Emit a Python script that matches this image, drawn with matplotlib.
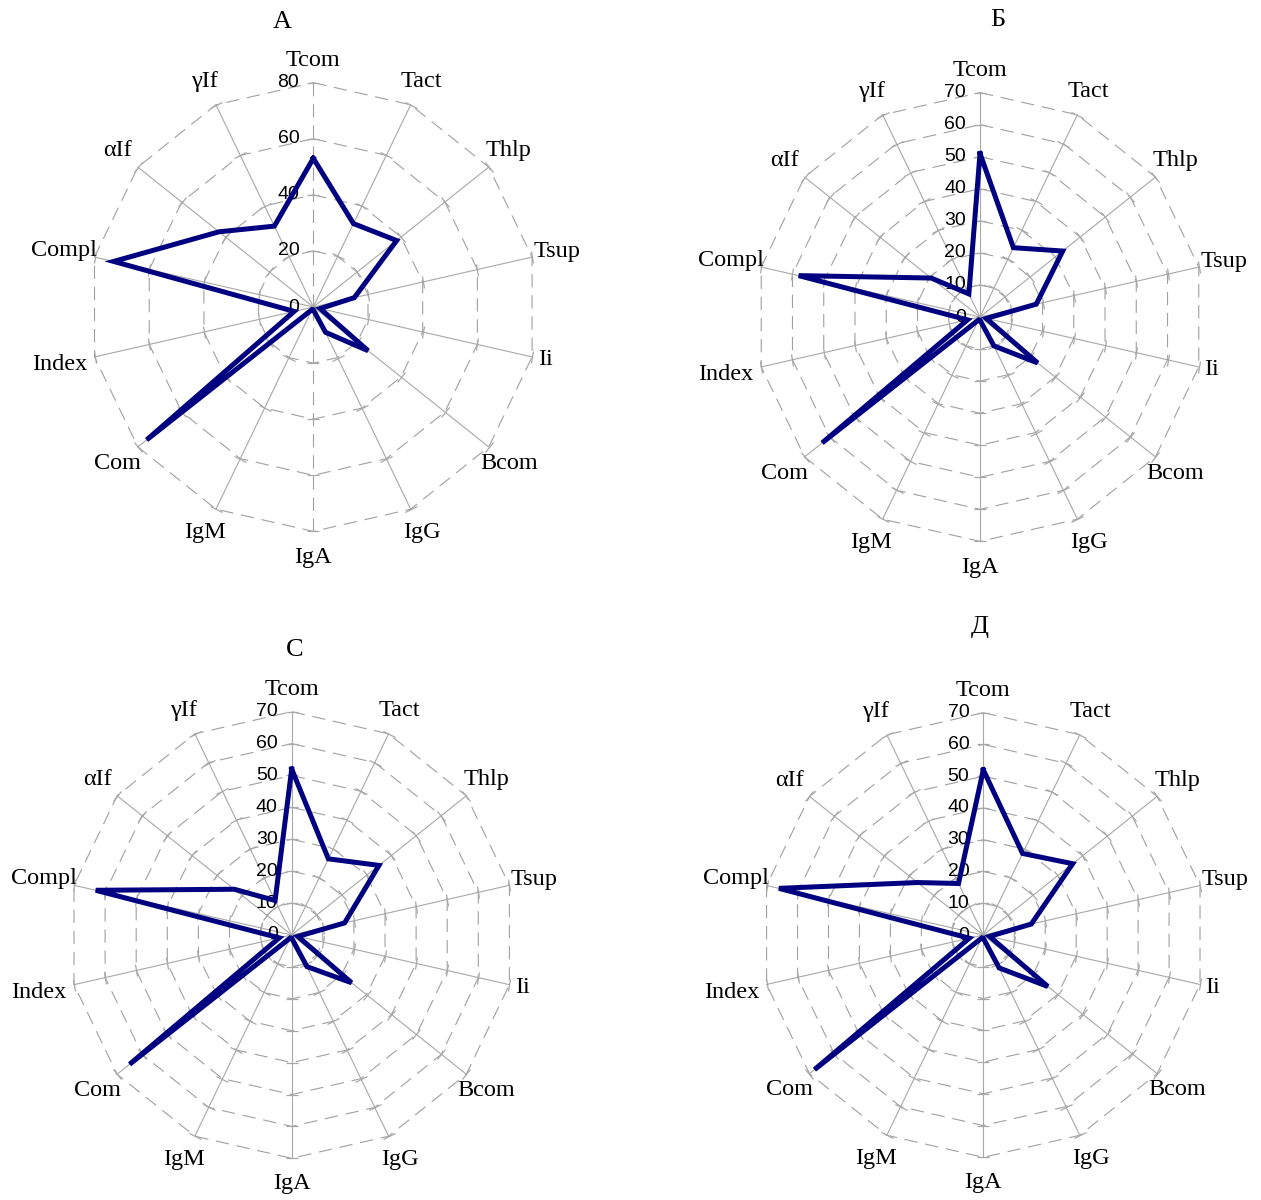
import numpy as np
import matplotlib
matplotlib.use("Agg")
import matplotlib.pyplot as plt
from matplotlib.markers import MarkerStyle
from matplotlib.transforms import Affine2D

# ---- data -------------------------------------------------------------
categories = ["Tcom", "Tact", "Thlp", "Tsup", "Ii", "Bcom", "IgG", "IgA",
              "IgM", "Com", "Index", "Compl", "αIf", "γIf"]

values_a = [53, 33, 38, 15, 2.5, 25, 10, 1, 1, 76, 7, 73, 43, 32]
values_b = [51, 24, 33, 18, 2, 23, 10, 1, 1, 63, 4, 58, 19.5, 8]
values_c = [52, 26.5, 35, 17, 2, 24, 11, 1, 1, 65, 4, 63, 23, 12]
values_d = [52, 28.5, 36, 15.5, 2, 26, 11.5, 1, 1, 68, 4.5, 66, 26.5, 18]

panel_titles = ["А", "Б", "С", "Д"]
scale_max = [80, 70, 70, 70]
scale_step = [20, 10, 10, 10]

# ---- layout (pixels in a 1261 x 1200 canvas) ---------------------------
W, H = 1261, 1200
centers = [(313.3, 307.0), (980.0, 317.0), (291.7, 935.0), (983.3, 935.0)]
radii = [224.4, 224.4, 223.3, 222.3]
title_pos = [(282, 22), (998, 20), (295, 650), (980, 627)]
label_factor = {"Ii": 1.06, "Index": 1.16, "Compl": 1.14, "Tcom": 1.10}

ring_color = "#a0a0a0"
spoke_color = "#a8a8a8"
line_color = "#000080"
serif = ["Liberation Serif", "DejaVu Serif"]
sans = ["Liberation Sans", "DejaVu Sans"]

fig = plt.figure(figsize=(W / 100, H / 100), dpi=100)


def radar(ax, values, vmax, step, dashed_axis):
    n = len(categories)
    angles = np.arange(n) * 2 * np.pi / n
    closed = np.append(angles, angles[0])

    ax.set_theta_zero_location("N")
    ax.set_theta_direction(-1)
    ax.set_ylim(0, vmax)
    ax.set_xticks([])
    ax.set_yticks([])
    ax.grid(False)
    ax.spines["polar"].set_visible(False)
    ax.patch.set_visible(False)

    levels = np.arange(step, vmax + step, step)

    # polygonal rings
    for lev in levels:
        ax.plot(closed, np.full(n + 1, lev), color=ring_color, lw=0.8,
                dashes=(12, 7), clip_on=False, zorder=1)

    # spokes with perpendicular tick marks
    for a in angles:
        deg = np.degrees(a)
        vertical = np.isclose(deg, 0) or np.isclose(deg, 180)
        if dashed_axis and vertical:
            ax.plot([a, a], [0, vmax], color=ring_color, lw=0.8,
                    dashes=(12, 7), clip_on=False, zorder=1)
        else:
            ax.plot([a, a], [0, vmax], color=spoke_color, lw=0.8,
                    clip_on=False, zorder=1)
        tick = MarkerStyle("_", transform=Affine2D().rotate_deg(-deg))
        ax.plot(np.full(len(levels), a), levels, ls="none", marker=tick,
                ms=9, mec=spoke_color, mew=0.9, clip_on=False, zorder=1)

    # value labels along the top axis
    for lev in np.concatenate([[0], levels]):
        ax.annotate(f"{lev:g}", xy=(0, lev), xytext=(-14, 0),
                    textcoords="offset pixels", ha="right", va="center",
                    fontsize=14, family=sans, color="black", zorder=3,
                    annotation_clip=False)

    # category labels
    for a, name in zip(angles, categories):
        f = label_factor.get(name, 1.115)
        ax.text(a, vmax * f, name, ha="center", va="center",
                fontsize=17.5, family=serif, color="black")

    # data polygon
    vals = np.append(values, values[0])
    ax.plot(closed, vals, color=line_color, lw=3.6,
            solid_joinstyle="miter", clip_on=False, zorder=5)


all_values = [values_a, values_b, values_c, values_d]
for i in range(4):
    cx, cy = centers[i]
    r = radii[i]
    rect = [(cx - r) / W, 1 - (cy + r) / H, 2 * r / W, 2 * r / H]
    ax = fig.add_axes(rect, projection="polar")
    radar(ax, all_values[i], scale_max[i], scale_step[i], dashed_axis=(i == 0))
    tx, ty = title_pos[i]
    fig.text(tx / W, 1 - ty / H, panel_titles[i], ha="center", va="center",
             fontsize=19, family=serif)

fig.savefig("out.png", dpi=100, facecolor="white")
